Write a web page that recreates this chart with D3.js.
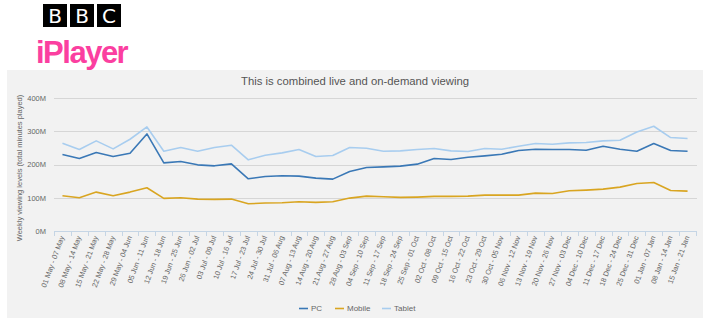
<!DOCTYPE html>
<html><head><meta charset="utf-8">
<script src="https://cdn.jsdelivr.net/npm/d3@7/dist/d3.min.js"></script>
<style>
html,body{margin:0;padding:0;background:#fff;}
svg{display:block;font-family:"Liberation Sans",Arial,sans-serif;}
</style></head>
<body>
<svg id="chart" width="706" height="326"></svg>
<script>
const categories = ["01 May - 07 May","08 May - 14 May","15 May - 21 May","22 May - 28 May","29 May - 04 Jun","05 Jun - 11 Jun","12 Jun - 18 Jun","19 Jun - 25 Jun","26 Jun - 02 Jul","03 Jul - 09 Jul","10 Jul - 16 Jul","17 Jul - 23 Jul","24 Jul - 30 Jul","31 Jul - 06 Aug","07 Aug - 13 Aug","14 Aug - 20 Aug","21 Aug - 27 Aug","28 Aug - 03 Sep","04 Sep - 10 Sep","11 Sep - 17 Sep","18 Sep - 24 Sep","25 Sep - 01 Oct","02 Oct - 08 Oct","09 Oct - 15 Oct","16 Oct - 22 Oct","23 Oct - 29 Oct","30 Oct - 05 Nov","06 Nov - 12 Nov","13 Nov - 19 Nov","20 Nov - 26 Nov","27 Nov - 03 Dec","04 Dec - 10 Dec","11 Dec - 17 Dec","18 Dec - 24 Dec","25 Dec - 31 Dec","01 Jan - 07 Jan","08 Jan - 14 Jan","15 Jan - 21 Jan"];
// values in millions of minutes
const pc = [230,218,236,224,234,292,205,209,199,196,202,157,164,166,165,159,156,179,191,193,195,201,218,215,222,226,231,242,246,245,245,243,255,246,240,263,242,240];
const mobile = [106,100,117,106,117,130,98,100,96,95,96,82,84,85,88,86,88,99,105,103,101,102,104,104,105,108,108,108,114,113,121,123,126,132,143,146,122,120];
const tablet = [264,245,271,247,276,313,240,251,240,251,258,214,228,235,245,224,227,251,249,240,241,245,248,241,239,248,246,255,263,261,265,266,271,273,298,315,281,278];
const seriesNames = ["PC","Mobile","Tablet"];
const yTicks = [0,100,200,300,400];
const titleText = "This is combined live and on-demand viewing";
const yTitle = "Weekly viewing levels (total minutes played)";

const colors = {PC:"#3a78b6", Mobile:"#d9a521", Tablet:"#a8cdef"};
const seriesData = {PC:pc, Mobile:mobile, Tablet:tablet};

const svg = d3.select("#chart");

// BBC logo
const bbc = svg.append("g");
["B","B","C"].forEach((ch,i)=>{
  const x0 = 43 + i*27;
  bbc.append("rect").attr("x",x0).attr("y",4).attr("width",24).attr("height",23).attr("fill","#000");
  bbc.append("text").attr("x",x0+12).attr("y",23).attr("text-anchor","middle")
    .attr("fill","#fff").attr("font-size",20).attr("font-family","'DejaVu Sans',sans-serif").text(ch);
});
svg.append("text").attr("x",36).attr("y",63).attr("fill","#fb3fa0")
  .attr("font-size",31).attr("font-weight","bold").attr("letter-spacing",-1.5)
  .attr("font-family","'Liberation Sans',Arial,sans-serif").text("iPlayer");

// panel
svg.append("rect").attr("x",7).attr("y",70).attr("width",696).attr("height",248).attr("fill","#f2f2f2");

svg.append("text").attr("x",355).attr("y",85).attr("text-anchor","middle")
  .attr("fill","#555").attr("font-size",11.3).text(titleText);

const x = d3.scaleBand().domain(categories).range([54,696]).padding(0);
const y = d3.scaleLinear().domain([0,400]).range([231,98]);

// gridlines
const grid = svg.append("g");
yTicks.filter(t=>t>0).forEach(t=>{
  grid.append("line").attr("x1",54).attr("x2",697).attr("y1",Math.round(y(t))+0.5).attr("y2",Math.round(y(t))+0.5)
    .attr("stroke","#d6d6d6").attr("stroke-width",1);
});

// y axis labels
const yAxis = d3.axisLeft(y).tickValues(yTicks).tickSize(0).tickPadding(0).tickFormat(d=>d+"M");
const yg = svg.append("g").attr("transform","translate(46,0)").call(yAxis);
yg.select(".domain").remove();
yg.selectAll("text").attr("fill","#666").attr("font-size",7.5).attr("font-family","'Liberation Sans',Arial,sans-serif");

svg.append("text").attr("transform","translate(22,168) rotate(-90)").attr("text-anchor","middle")
  .attr("fill","#666").attr("font-size",7.5).text(yTitle);

// x axis
const xg = svg.append("g");
xg.append("line").attr("x1",54).attr("x2",697).attr("y1",231.5).attr("y2",231.5).attr("stroke","#c5d5e5");
const bounds = categories.map(c=>x(c)).concat([x.range()[1]]);
bounds.forEach(b=>{
  xg.append("line").attr("x1",Math.round(b)+0.5).attr("x2",Math.round(b)+0.5).attr("y1",231).attr("y2",236).attr("stroke","#c5d5e5");
});
categories.forEach(c=>{
  const cx = x(c)+x.bandwidth()/2;
  xg.append("text").attr("transform",`translate(${cx+2},${237}) rotate(-70)`)
    .attr("text-anchor","end").attr("fill","#666").attr("font-size",7.3).text(c);
});

// lines
const line = d3.line().x((d,i)=>x(categories[i])+x.bandwidth()/2).y(d=>y(d));
seriesNames.slice().reverse().forEach(n=>{
  svg.append("path").datum(seriesData[n]).attr("d",line).attr("fill","none")
    .attr("stroke",colors[n]).attr("stroke-width",1.6).attr("stroke-linejoin","round");
});

// legend
const legX = [299,335,382];
seriesNames.forEach((n,i)=>{
  svg.append("line").attr("x1",legX[i]).attr("x2",legX[i]+9).attr("y1",308.5).attr("y2",308.5).attr("stroke",colors[n]).attr("stroke-width",1.6);
  svg.append("text").attr("x",legX[i]+12).attr("y",311).attr("fill","#666").attr("font-size",8).text(n);
});
</script>
</body></html>
